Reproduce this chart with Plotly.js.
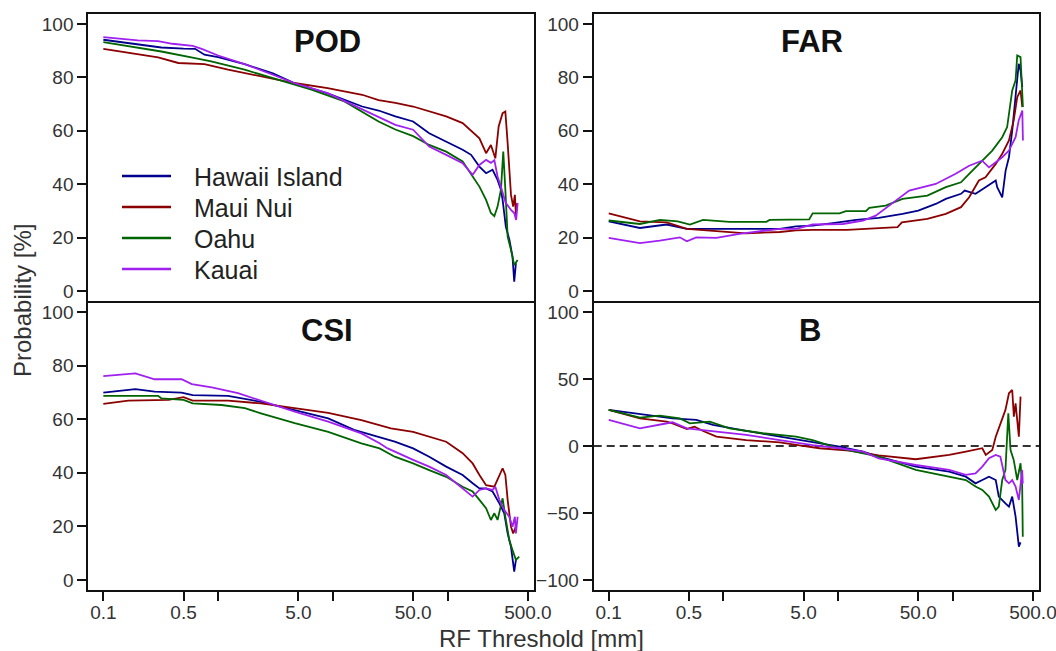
<!DOCTYPE html>
<html><head><meta charset="utf-8">
<script src="https://cdn.plot.ly/plotly-3.0.1.min.js"></script>
<style>html,body{margin:0;padding:0;background:#fff;}#chart{width:1056px;height:651px;}</style>
</head><body><div id="chart"></div>
<script>
// ---- series meta ----
const islands = ["Hawaii Island", "Maui Nui", "Oahu", "Kauai"];
const colors = ["#00008B", "#8B0000", "#006400", "#A020F0"];
const panelTitles = ["POD", "FAR", "CSI", "B"];
const xTickVals = [0.1, 0.5, 1, 5, 10, 50, 100, 500];
const xTickText = ["0.1", "0.5", "", "5.0", "", "50.0", "", "500.0"];
const probTicks = [0, 20, 40, 60, 80, 100];
const biasTicks = [-100, -50, 0, 50, 100];

// ---- POD ----
const POD_HI_x = [0.1,0.15,0.2,0.32,0.5,0.63,0.76,1,1.7,3,4.6,9,18,25,35,50,69,97,135,160,189,216,246,272,291,301,321,345,367,380,393];
const POD_HI_y = [94.1,93,92.3,91.2,90.8,90.7,88.5,87.6,85,81.5,77.9,74,69.1,67.6,65.4,63.5,59.1,56,52.9,51,46.6,44.1,45.4,41.6,37.9,34.1,24.1,19.1,12.9,3.5,10.4];
const POD_MN_x = [0.1,0.15,0.23,0.3,0.45,0.76,1.22,2.36,4.6,9,18,25,35,50,69,97,135,155,189,216,238,260,278,301,318,333,356,372,385,393,401];
const POD_MN_y = [90.7,89.5,88.2,87.5,85.4,85,82.9,80.4,77.9,76,73.5,71.5,70.5,69.1,67.2,65.4,62.9,60.4,57.2,51.6,54.7,49.7,61.6,66.6,67.2,55.4,36,31.6,36,28.5,32.9];
const POD_OA_x = [0.1,0.2,0.32,0.63,0.87,1.7,3.3,6.5,12.6,25,35,50,69,97,135,165,189,216,238,255,272,291,305,318,333,356,380,407];
const POD_OA_y = [93.2,91,89.7,87.2,86,82.9,79.1,75.4,71,63.5,60.5,58,54.7,52.2,48.5,42.9,39.1,34.1,29.2,28,31.6,37.9,52.2,37.9,20.4,15.4,9.7,11.6];
const POD_KA_x = [0.1,0.15,0.2,0.3,0.4,0.6,0.72,1,1.7,3,4.6,9,18,25,35,50,69,97,135,165,189,216,238,255,272,291,320,356,380,395,407];
const POD_KA_y = [95.1,94.3,93.9,93.6,92.6,91.8,90.7,88.2,85,81,77.9,74.1,67.9,65.1,62.2,60.4,54.1,51,47.9,43.5,47.2,49.1,48,49,42.9,39,33,30.4,29.2,26.6,33];

// ---- FAR ----
const FAR_HI_x = [0.1,0.187,0.32,0.48,1,3.1,4.3,6,9,14.4,22.6,26,36.5,50,71,87,118,127,158,193,237,244,270,289,309,330,353,376,390,404];
const FAR_HI_y = [26.1,23.6,24.9,23.3,23.3,23.3,24.2,24.5,25.4,26.6,27.4,27.8,28.9,30.1,32.6,34.5,36.4,37.6,36.4,38.9,41.4,38.9,35.1,45.1,50.1,60.1,72.6,85.1,82.6,76.4];
const FAR_MN_x = [0.1,0.187,0.32,0.48,1.58,3.1,4.3,6,12,22.6,33,36,60,87,118,139,169,193,237,270,309,340,365,390,404];
const FAR_MN_y = [29.1,26.1,25.7,23.3,21.6,22.1,22.7,22.9,22.9,23.6,23.9,25.7,27,28.9,31.4,35.1,41.4,42.6,47.6,51.4,56.4,63.9,72.6,75.1,68.9];
const FAR_OA_x = [0.1,0.187,0.28,0.4,0.51,0.665,1.13,2.37,2.53,4.9,5.6,6,10.3,11.7,17.5,18.7,26,36.5,60,87,118,139,169,221,270,298,330,353,365,390,409];
const FAR_OA_y = [26.4,25.1,26.6,26.1,24.9,26.6,25.9,25.9,26.6,26.6,26.8,29.1,29.1,29.9,29.9,31.1,32,34.5,35.7,38.9,40.7,43.9,47.6,52.6,57.6,61.4,75.1,78.9,88.2,87.6,68.9];
const FAR_KA_x = [0.1,0.187,0.279,0.417,0.48,0.58,0.868,1.38,3.1,4.3,6,11,16.5,21.3,30,41.7,71,106,139,180,207,237,270,309,353,376,404,409];
const FAR_KA_y = [19.9,17.9,18.9,20.1,18.6,20.1,19.9,21.4,23.3,23.3,24.9,25.1,26.4,28.2,33,37.6,40.1,43.9,46.9,48.8,46.3,48.2,50.1,52.6,57.6,63.9,67.6,56.4];

// ---- CSI ----
const CSI_HI_x = [0.1,0.19,0.28,0.48,0.6,1.22,2.36,4.65,9.1,15.3,24.5,34.6,50,69,97,135,165,189,216,246,282,311,333,356,380,393];
const CSI_HI_y = [69.9,71.2,70.3,69.9,69,68.7,66.5,63.4,60.3,56,53.5,51.6,49.1,46,42.3,39.2,36.1,34.2,34.2,33,28.6,24.9,17.4,12.4,3.1,7.5];
const CSI_MN_x = [0.1,0.165,0.37,0.5,0.6,1.22,2.36,4.65,9.1,17.7,25.5,32,50,69,97,135,165,189,216,255,283,301,318,333,356,372,393];
const CSI_MN_y = [65.7,66.9,67.2,68.2,66.9,66.9,65.9,64.1,62.4,59.7,57.8,56.6,55.3,53.5,51.6,47.3,43.5,39.2,35.4,34.8,39.2,41.7,39.2,29.9,19.9,17.4,19.9];
const CSI_OA_x = [0.1,0.3,0.32,0.5,0.6,1.07,1.71,2.36,4.65,9.1,17.7,25.5,34.6,50,69,97,135,165,189,216,238,255,272,301,318,344,367,393,420];
const CSI_OA_y = [68.7,68.7,67.8,67.2,65.9,65.3,64.1,62.2,58.5,55.3,51,49.1,46,43.5,41,38.5,34.8,33,29.9,26.8,22.4,24.9,22.4,30.5,23.6,14.9,11.2,7.5,8.7];
const CSI_KA_x = [0.1,0.19,0.28,0.48,0.59,0.88,1.49,3.1,4.65,9.1,17.7,25.5,30,50,69,97,135,165,189,216,246,260,282,311,344,367,385,393,407];
const CSI_KA_y = [76.1,77.1,74.9,74.9,73.1,71.9,69.7,65.3,62.8,59.1,54.7,51,49.1,44.8,42.3,39.2,34.2,31.1,33.6,34.2,33.6,34.8,29.9,26.1,23.6,19.9,23.6,17.4,23.6];

// ---- B (bias) ----
const B_HI_x = [0.1,0.21,0.36,0.58,0.81,1.58,3.1,6,10.3,16.5,22.6,47.6,93,130,158,181,207,237,252,288,309,330,353,377,390];
const B_HI_y = [26.9,23.1,20.6,19.4,15.7,11.2,7,3.2,-0.5,-4.2,-8,-15.4,-19.2,-22.9,-27.9,-25.4,-22.9,-25.4,-37.8,-42.8,-45.3,-37.8,-52.7,-75.1,-72];
const B_MN_x = [0.1,0.187,0.32,0.36,0.48,0.56,0.665,0.87,1.58,3.1,4.6,6.9,12.5,22.6,47.6,66.5,93,130,158,181,194,221,237,270,288,309,330,341,353,377,390];
const B_MN_y = [26.9,20.6,18.2,16.9,12.7,14.4,11.2,7,4.4,2.7,0.5,-1.7,-3.5,-7,-9.9,-8.5,-6.7,-4.2,-3,-1.7,-6.7,-3,6.9,19.4,26.9,39.3,41.8,21.9,31.8,6.9,36.8];
const B_OA_x = [0.1,0.187,0.279,0.417,0.51,0.76,1.13,2.2,4.3,6,9.6,16.5,22.6,47.6,93,130,158,181,207,237,252,270,288,305,319,340,365,390,403,408];
const B_OA_y = [26.9,21.1,22.6,20.6,16.9,18.2,13.2,9.5,7,4.4,-1.2,-5.5,-8,-17.9,-22.9,-25.4,-30.3,-32.8,-37.8,-47.8,-45.3,-25.4,-17.9,24.4,-3,-10.4,-25.4,-12.9,-30.3,-67.7];
const B_KA_x = [0.1,0.187,0.298,0.36,0.48,0.63,0.81,1.58,3.1,6,10.3,16.5,22.6,47.6,93,130,158,181,207,237,260,288,309,330,353,377,403,408];
const B_KA_y = [19.4,13.2,16.4,17.7,13.2,12,10.7,8.2,4.4,0.7,-1.7,-4.2,-9.2,-14.2,-17.9,-21.6,-20.4,-15.4,-9.2,-6.7,-8,-25.4,-27.9,-25.4,-30.3,-40.3,-17.9,-28];

// ---- build ----
const W = 1056, H = 651;
const fx = p => p / W, fy = p => 1 - p / H;
const FONT = "Liberation Sans, Arial, sans-serif";

const panels = [
  { xa: "x",  ya: "y",  series: [[POD_HI_x,POD_HI_y],[POD_MN_x,POD_MN_y],[POD_OA_x,POD_OA_y],[POD_KA_x,POD_KA_y]] },
  { xa: "x2", ya: "y2", series: [[FAR_HI_x,FAR_HI_y],[FAR_MN_x,FAR_MN_y],[FAR_OA_x,FAR_OA_y],[FAR_KA_x,FAR_KA_y]] },
  { xa: "x3", ya: "y3", series: [[CSI_HI_x,CSI_HI_y],[CSI_MN_x,CSI_MN_y],[CSI_OA_x,CSI_OA_y],[CSI_KA_x,CSI_KA_y]] },
  { xa: "x4", ya: "y4", series: [[B_HI_x,B_HI_y],[B_MN_x,B_MN_y],[B_OA_x,B_OA_y],[B_KA_x,B_KA_y]] }
];
const traces = [];
panels.forEach(p => {
  p.series.forEach((s, i) => {
    traces.push({ x: s[0], y: s[1], xaxis: p.xa, yaxis: p.ya, type: "scatter", mode: "lines",
      name: islands[i], showlegend: false, hoverinfo: "skip",
      line: { color: colors[i], width: 1.8 } });
  });
});

const domL = [fx(88.3), fx(534)], domR = [fx(593.7), fx(1039)];
const domT = [fy(301), fy(14)], domB = [fy(590), fy(303)];
const xRange = [-1.131, 2.752];
function xax(dom, anchor, labels) {
  return { domain: dom, anchor: anchor, type: "log", range: xRange, showgrid: false, zeroline: false,
    showline: true, mirror: true, linecolor: "#111", linewidth: 2,
    tickmode: "array", tickvals: xTickVals, ticktext: xTickText,
    ticks: labels ? "outside" : "", ticklen: 9, tickwidth: 2, tickcolor: "#111",
    ticklabeloverflow: "allow", ticklabelstandoff: -5,
    showticklabels: labels, tickfont: { family: FONT, size: 19, color: "#333" } };
}
function yax(dom, anchor, range, vals) {
  return { domain: dom, anchor: anchor, range: range, showgrid: false, zeroline: false,
    showline: true, mirror: true, linecolor: "#111", linewidth: 2,
    tickmode: "array", tickvals: vals, ticks: "outside", ticklen: 9, tickwidth: 2, tickcolor: "#111",
    ticklabeloverflow: "allow",
    tickfont: { family: FONT, size: 19, color: "#333" } };
}
const layout = {
  width: W, height: H, margin: { l: 0, r: 0, t: 0, b: 0 },
  paper_bgcolor: "#fff", plot_bgcolor: "#fff", showlegend: false,
  xaxis: xax(domL, "y", false),  yaxis: yax(domT, "x", [-3.75, 103.75], probTicks),
  xaxis2: xax(domR, "y2", false), yaxis2: yax(domT, "x2", [-3.75, 103.75], probTicks),
  xaxis3: xax(domL, "y3", true),  yaxis3: yax(domB, "x3", [-3.73, 103.36], probTicks),
  xaxis4: xax(domR, "y4", true),  yaxis4: yax(domB, "x4", [-107.5, 106.7], biasTicks),
  shapes: [
    { type: "line", xref: "x4 domain", x0: 0, x1: 1, yref: "y4", y0: 0, y1: 0,
      line: { color: "#333", width: 2, dash: "8px,5px" }, layer: "below" }
  ],
  annotations: []
};
// panel titles
const titlePos = [[327, 41], [812, 41], [327, 330], [810, 330]];
panelTitles.forEach((t, i) => {
  layout.annotations.push({ text: "<b>" + t + "</b>", xref: "paper", yref: "paper",
    x: fx(titlePos[i][0]), y: fy(titlePos[i][1]), xanchor: "center", yanchor: "middle",
    showarrow: false, font: { family: FONT, size: 31, color: "#111" } });
});
// axis titles
layout.annotations.push({ text: "Probability [%]", xref: "paper", yref: "paper", x: fx(22), y: fy(301),
  xanchor: "center", yanchor: "middle", textangle: -90, showarrow: false,
  font: { family: FONT, size: 24, color: "#333" } });
layout.annotations.push({ text: "RF Threshold [mm]", xref: "paper", yref: "paper", x: fx(541), y: fy(638),
  xanchor: "center", yanchor: "middle", showarrow: false,
  font: { family: FONT, size: 24, color: "#333" } });
// legend
const legY = [176, 207, 238, 269];
islands.forEach((n, i) => {
  layout.shapes.push({ type: "line", xref: "paper", yref: "paper", x0: fx(122), x1: fx(171),
    y0: fy(legY[i]), y1: fy(legY[i]), line: { color: colors[i], width: 2.5 } });
  layout.annotations.push({ text: n, xref: "paper", yref: "paper", x: fx(192), y: fy(legY[i] + 1),
    xanchor: "left", yanchor: "middle", showarrow: false,
    font: { family: FONT, size: 25, color: "#222" } });
});

Plotly.newPlot("chart", traces, layout, { staticPlot: true, displayModeBar: false });
</script></body></html>
